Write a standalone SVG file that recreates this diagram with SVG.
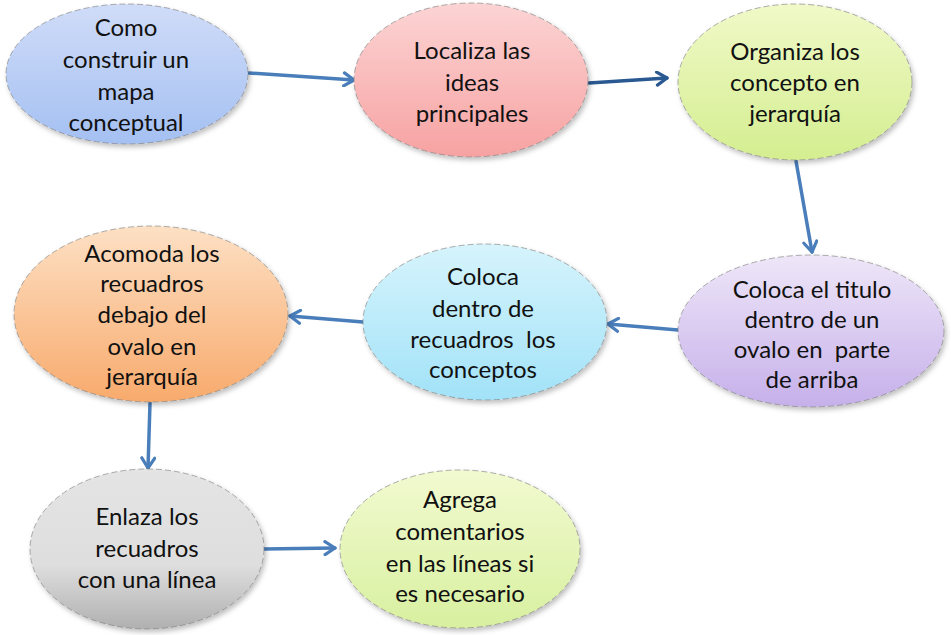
<svg xmlns="http://www.w3.org/2000/svg" width="951" height="635" viewBox="0 0 951 635">
<defs>
<style>
.node ellipse{stroke:#7a7a7a;stroke-width:1;stroke-dasharray:6 3;stroke-opacity:0.6;filter:url(#sh)}
.node text{font-family:Lato,"Open Sans","Liberation Sans",sans-serif;font-size:24px;fill:#111;text-anchor:middle}
.conn path{fill:none;stroke:#4a7ebb;stroke-width:3.5;stroke-linecap:round}
.conn path.dk{stroke:#2a5890}
</style>
<filter id="sh" x="-10%" y="-10%" width="125%" height="130%">
<feDropShadow dx="2" dy="3" stdDeviation="2.5" flood-color="#000" flood-opacity="0.25"/>
</filter>
<marker id="ah" viewBox="0 0 16 16" refX="14" refY="8" markerWidth="16" markerHeight="16" markerUnits="userSpaceOnUse" orient="auto">
<path d="M4,1.5 L14,8 L4,14.5" fill="none" stroke="#4a7ebb" stroke-width="3.2" stroke-linecap="round" stroke-linejoin="round"/>
</marker>
<marker id="ahd" viewBox="0 0 16 16" refX="14" refY="8" markerWidth="16" markerHeight="16" markerUnits="userSpaceOnUse" orient="auto">
<path d="M4,1.5 L14,8 L4,14.5" fill="none" stroke="#2a5890" stroke-width="3.2" stroke-linecap="round" stroke-linejoin="round"/>
</marker>
<linearGradient id="gBlue" x1="0" y1="0" x2="0" y2="1"><stop offset="0" stop-color="#d0dcf8"/><stop offset="1" stop-color="#a4c0f2"/></linearGradient>
<linearGradient id="gPink" x1="0" y1="0" x2="0" y2="1"><stop offset="0" stop-color="#fcd4d4"/><stop offset="1" stop-color="#f7a2a2"/></linearGradient>
<linearGradient id="gGreen" x1="0" y1="0" x2="0" y2="1"><stop offset="0" stop-color="#f0f9c8"/><stop offset="1" stop-color="#d4ee90"/></linearGradient>
<linearGradient id="gPurple" x1="0" y1="0" x2="0" y2="1"><stop offset="0" stop-color="#eee6f8"/><stop offset="1" stop-color="#c6b0ea"/></linearGradient>
<linearGradient id="gCyan" x1="0" y1="0" x2="0" y2="1"><stop offset="0" stop-color="#d6f4fc"/><stop offset="1" stop-color="#a2e2f8"/></linearGradient>
<linearGradient id="gOrange" x1="0" y1="0" x2="0" y2="1"><stop offset="0" stop-color="#fde0c4"/><stop offset="1" stop-color="#f8aa6c"/></linearGradient>
<linearGradient id="gGray" x1="0" y1="0" x2="0" y2="1"><stop offset="0" stop-color="#e4e4e4"/><stop offset="0.6" stop-color="#dedede"/><stop offset="1" stop-color="#b0b0b0"/></linearGradient>
<linearGradient id="gLime" x1="0" y1="0" x2="0" y2="1"><stop offset="0" stop-color="#f2fad0"/><stop offset="1" stop-color="#d8f0a0"/></linearGradient>
</defs>
<rect width="951" height="635" fill="#ffffff"/>
<g id="connectors" class="conn">
<path d="M249,73 L354,80" marker-end="url(#ah)"/>
<path class="dk" d="M589,83 L667,78" marker-end="url(#ahd)"/>
<path d="M796,161 L812,252" marker-end="url(#ah)"/>
<path d="M678,330 L608,324" marker-end="url(#ah)"/>
<path d="M363,322 L290,316" marker-end="url(#ah)"/>
<path d="M150,403 L148,468" marker-end="url(#ah)"/>
<path d="M264,549 L335,548" marker-end="url(#ah)"/>
</g>
<g id="n1" class="node">
<ellipse cx="127" cy="74" rx="121" ry="70" fill="url(#gBlue)"/>
<text x="126" y="36">Como</text><text x="126" y="68">construir un</text><text x="126" y="100">mapa</text><text x="126" y="131">conceptual</text>
</g>
<g id="n2" class="node">
<ellipse cx="471" cy="80" rx="117" ry="77" fill="url(#gPink)"/>
<text x="472" y="59">Localiza las</text><text x="472" y="91">ideas</text><text x="472" y="122">principales</text>
</g>
<g id="n3" class="node">
<ellipse cx="795" cy="82" rx="117" ry="78" fill="url(#gGreen)"/>
<text x="795" y="60">Organiza los</text><text x="795" y="91">concepto en</text><text x="795" y="122">jerarquía</text>
</g>
<g id="n4" class="node">
<ellipse cx="811" cy="331" rx="133" ry="76" fill="url(#gPurple)"/>
<text x="812" y="298">Coloca el titulo</text><text x="812" y="328">dentro de un</text><text x="812" y="358" xml:space="preserve">ovalo en  parte</text><text x="812" y="388">de arriba</text>
</g>
<g id="n5" class="node">
<ellipse cx="485" cy="322" rx="122" ry="78" fill="url(#gCyan)"/>
<text x="483" y="285">Coloca</text><text x="483" y="317">dentro de</text><text x="483" y="348" xml:space="preserve">recuadros  los</text><text x="483" y="378">conceptos</text>
</g>
<g id="n6" class="node">
<ellipse cx="151" cy="314" rx="137" ry="88" fill="url(#gOrange)"/>
<text x="152" y="262">Acomoda los</text><text x="152" y="292">recuadros</text><text x="152" y="323">debajo del</text><text x="152" y="355">ovalo en</text><text x="152" y="385">jerarquía</text>
</g>
<g id="n7" class="node">
<ellipse cx="147" cy="549" rx="117" ry="80" fill="url(#gGray)"/>
<text x="147" y="525">Enlaza los</text><text x="147" y="557">recuadros</text><text x="147" y="588">con una línea</text>
</g>
<g id="n8" class="node">
<ellipse cx="460" cy="549" rx="120" ry="79" fill="url(#gLime)"/>
<text x="460" y="508">Agrega</text><text x="460" y="540">comentarios</text><text x="460" y="572">en las líneas si</text><text x="460" y="602">es necesario</text>
</g>
</svg>
